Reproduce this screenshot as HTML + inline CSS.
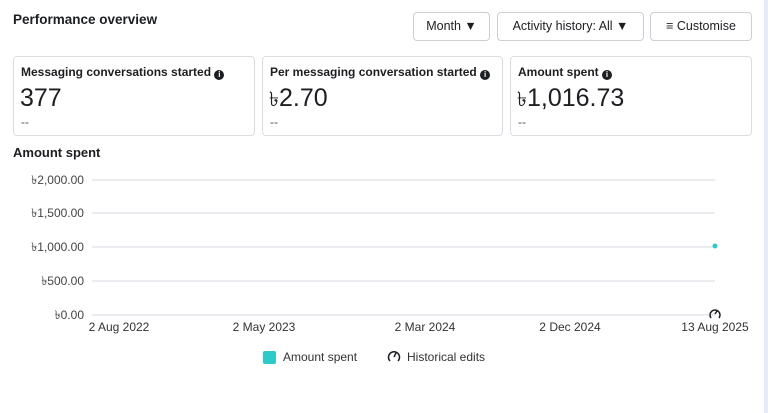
<!DOCTYPE html>
<html><head><style>
body{margin:0;width:768px;height:413px;background:#fff;font-family:"Liberation Sans",sans-serif;color:#1c1e21;position:relative;overflow:hidden}
.a{position:absolute}
.btn{position:absolute;top:12px;height:29px;border:1px solid #ccd0d5;border-radius:4px;box-sizing:border-box;font-size:12.5px;line-height:27px;text-align:center;background:#fff}
.card{position:absolute;top:56px;height:80px;border:1px solid #dadde1;border-radius:4px;box-sizing:border-box}
.card .t{position:absolute;left:7px;top:8px;font-size:12px;font-weight:bold;line-height:14px;white-space:nowrap}
.card .v{position:absolute;left:6px;top:26px;font-size:25px;line-height:30px;color:#1c1e21}
.card .d{position:absolute;left:7px;top:58px;font-size:12px;line-height:14px;color:#555}
.tk{font-size:20px}
.i{display:inline-block;width:10px;height:10px;border-radius:50%;background:#1c1e21;color:#fff;font-size:8px;line-height:10px;text-align:center;vertical-align:-1px}
.yl{position:absolute;right:684px;font-size:12px;line-height:14px;color:#444}
.xl{position:absolute;top:320px;font-size:12px;color:#333;transform:translateX(-50%);white-space:nowrap}
</style></head><body>
<div class="a" style="left:13px;top:12px;font-size:13.5px;font-weight:bold">Performance overview</div>
<div class="btn" style="left:413px;width:77px">Month &#9660;</div>
<div class="btn" style="left:497px;width:147px">Activity history: All &#9660;</div>
<div class="btn" style="left:650px;width:102px">&#8801; Customise</div>
<div class="card" style="left:13px;width:242px"><div class="t">Messaging conversations started <span class="i">i</span></div><div class="v">377</div><div class="d">--</div></div>
<div class="card" style="left:262px;width:241px"><div class="t">Per messaging conversation started <span class="i">i</span></div><div class="v"><span class="tk">৳</span>2.70</div><div class="d">--</div></div>
<div class="card" style="left:510px;width:242px"><div class="t">Amount spent <span class="i">i</span></div><div class="v"><span class="tk">৳</span>1,016.73</div><div class="d">--</div></div>
<div class="a" style="left:13px;top:145px;font-size:13px;font-weight:bold">Amount spent</div>
<div class="a" style="left:764px;top:0;width:4px;height:413px;background:#e3ecf7"></div>
<svg class="a" style="left:0;top:0" width="768" height="413">
<g stroke="#e4e6eb" stroke-width="1.5">
<line x1="92" x2="715" y1="180" y2="180"/><line x1="92" x2="715" y1="213" y2="213"/><line x1="92" x2="715" y1="247" y2="247"/><line x1="92" x2="715" y1="281" y2="281"/><line x1="92" x2="715" y1="315" y2="315"/></g>
<circle cx="715" cy="246" r="2.5" fill="#2ec9c9"/>
<g fill="none" stroke="#1c1e21" stroke-width="1.5"><path d="M711 318 A5 5 0 1 1 719 318"/><line x1="715" y1="314" x2="717" y2="311"/></g>
<g fill="none" stroke="#1c1e21" stroke-width="1.5"><path d="M390 361 A5.5 5.5 0 1 1 398 361"/><line x1="394" y1="357" x2="396" y2="353"/></g>
</svg>
<div class="yl" style="top:173px">৳2,000.00</div>
<div class="yl" style="top:206px">৳1,500.00</div>
<div class="yl" style="top:240px">৳1,000.00</div>
<div class="yl" style="top:274px">৳500.00</div>
<div class="yl" style="top:308px">৳0.00</div>
<div class="xl" style="left:119px">2 Aug 2022</div>
<div class="xl" style="left:264px">2 May 2023</div>
<div class="xl" style="left:425px">2 Mar 2024</div>
<div class="xl" style="left:570px">2 Dec 2024</div>
<div class="xl" style="left:715px">13 Aug 2025</div>
<div class="a" style="left:263px;top:351px;width:13px;height:13px;background:#2ec9c9;border-radius:2px"></div>
<div class="a" style="left:283px;top:350px;font-size:12px;color:#333">Amount spent</div>
<div class="a" style="left:407px;top:350px;font-size:12px;color:#333">Historical edits</div>
</body></html>
